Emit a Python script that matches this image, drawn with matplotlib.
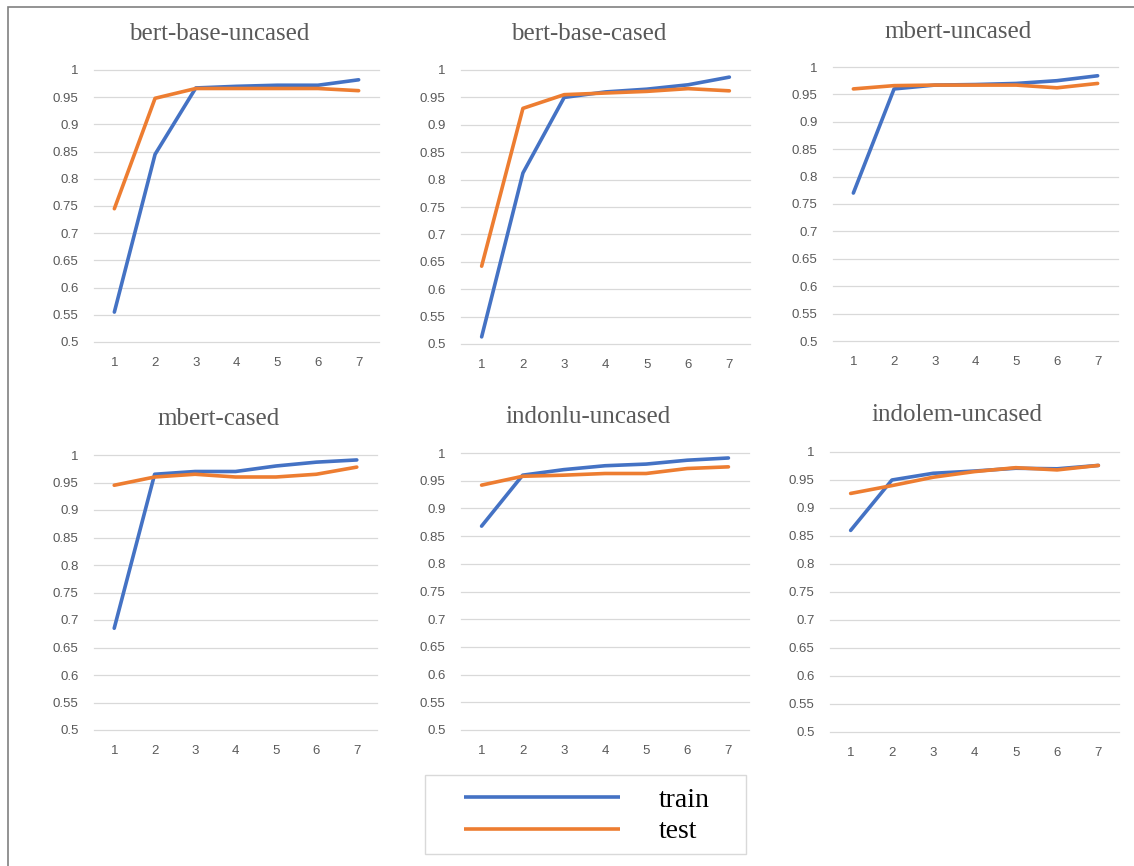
import matplotlib.pyplot as plt
from matplotlib.patches import Rectangle

W, H = 1134, 866

epochs = [1, 2, 3, 4, 5, 6, 7]
titles = ["bert-base-uncased", "bert-base-cased", "mbert-uncased",
          "mbert-cased", "indonlu-uncased", "indolem-uncased"]

train_bbu = [0.555, 0.845, 0.967, 0.970, 0.972, 0.972, 0.982]
test_bbu = [0.745, 0.948, 0.966, 0.966, 0.966, 0.966, 0.962]
train_bbc = [0.513, 0.812, 0.950, 0.960, 0.965, 0.973, 0.987]
test_bbc = [0.642, 0.930, 0.955, 0.958, 0.961, 0.966, 0.962]
train_mbu = [0.770, 0.960, 0.967, 0.968, 0.970, 0.975, 0.984]
test_mbu = [0.960, 0.966, 0.967, 0.967, 0.967, 0.962, 0.970]
train_mbc = [0.685, 0.965, 0.970, 0.970, 0.980, 0.987, 0.991]
test_mbc = [0.945, 0.960, 0.965, 0.960, 0.960, 0.965, 0.978]
train_inlu = [0.868, 0.960, 0.970, 0.977, 0.980, 0.987, 0.991]
test_inlu = [0.942, 0.958, 0.960, 0.963, 0.963, 0.972, 0.975]
train_ilem = [0.860, 0.950, 0.962, 0.966, 0.971, 0.970, 0.976]
test_ilem = [0.926, 0.940, 0.955, 0.965, 0.972, 0.968, 0.976]

trains = [train_bbu, train_bbc, train_mbu, train_mbc, train_inlu, train_ilem]
tests = [test_bbu, test_bbc, test_mbu, test_mbc, test_inlu, test_ilem]
yticks = [0.5, 0.55, 0.6, 0.65, 0.7, 0.75, 0.8, 0.85, 0.9, 0.95, 1]
ytick_labels = ["0.5", "0.55", "0.6", "0.65", "0.7", "0.75", "0.8", "0.85", "0.9", "0.95", "1"]

# plot areas in pixels: left, right, top (y=1), bottom (y=0.5), title centre x, title y
boxes = [
    (94, 379, 70, 342, 219, 33),
    (461, 750, 70, 344, 589, 33),
    (833, 1118, 67, 341, 958, 31),
    (94, 377, 455, 730, 219, 418),
    (461, 749, 453, 730, 588, 416),
    (830, 1119, 452, 732, 957, 414),
]

BLUE = "#4472C4"
ORANGE = "#ED7D31"

fig = plt.figure(figsize=(W / 100, H / 100), dpi=100)

for i, (l, r, t, b, tx, ty) in enumerate(boxes):
    ax = fig.add_axes([l / W, 1 - b / H, (r - l) / W, (b - t) / H])
    ax.plot(epochs, trains[i], color=BLUE, lw=2.6, solid_capstyle="round", label="train")
    ax.plot(epochs, tests[i], color=ORANGE, lw=2.6, solid_capstyle="round", label="test")
    ax.set_xlim(0.5, 7.5)
    ax.set_ylim(0.5, 1.0)
    ax.set_xticks(epochs)
    ax.set_yticks(yticks)
    ax.set_yticklabels(ytick_labels)
    ax.grid(axis="y", color="#D9D9D9", lw=0.9)
    for gl in ax.yaxis.get_gridlines():
        gl.set_clip_on(False)
    ax.set_axisbelow(True)
    for s in ax.spines.values():
        s.set_visible(False)
    ax.tick_params(length=0, colors="#595959", labelsize=9.5, pad=11)
    for lab in ax.get_xticklabels() + ax.get_yticklabels():
        lab.set_fontfamily("Liberation Sans")
    fig.text(tx / W, 1 - (ty + 1) / H, titles[i], ha="center", va="center",
             fontsize=18, family="Liberation Serif", color="#595959")
    if i == 0:
        handles, labels = ax.get_legend_handles_labels()

# legend box
fig.patches.append(Rectangle((425 / W, 1 - 854 / H), 321 / W, 79 / H,
                             transform=fig.transFigure, fill=False,
                             edgecolor="#D9D9D9", lw=1))
leg = fig.legend(handles, labels, loc="center", bbox_to_anchor=(587 / W, 1 - 816 / H),
                 frameon=False, handlelength=5.6, handletextpad=1.4, labelspacing=0.22,
                 prop={"family": "Liberation Serif", "size": 20})
for line in leg.get_lines():
    line.set_linewidth(2.6)
    line.set_solid_capstyle("butt")

# outer frame
fig.patches.append(Rectangle((8 / W, -0.01), 1.02, 1 - 7 / H + 0.01,
                             transform=fig.transFigure, fill=False,
                             edgecolor="#808080", lw=1.2))

fig.savefig("out.png", dpi=100)
